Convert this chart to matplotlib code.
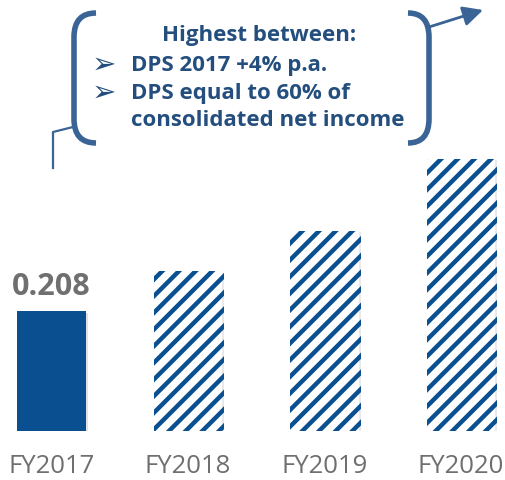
import matplotlib.pyplot as plt
from matplotlib.path import Path
from matplotlib.patches import PathPatch, FancyArrowPatch
import matplotlib.patheffects as pe

plt.rcParams['font.family'] = ['Open Sans', 'DejaVu Sans']
plt.rcParams['hatch.linewidth'] = 3.2

years = ['FY2017', 'FY2018', 'FY2019', 'FY2020']
dps = [0.208, 0.277, 0.347, 0.472]
actual = [True, False, False, False]
first_label = '0.208'

blue = '#0a5091'
brace_col = '#3a6396'
text_col = '#234e7e'
grey = '#6f6f6f'

W, H = 505, 480
fig = plt.figure(figsize=(W / 100, H / 100), dpi=100)

# bar axes, x unit = 136.5 px with first centre at 51.5 px
ax = fig.add_axes([0, 1 - 431 / H, 1, 431 / H])
px_unit = 136.5
ax.set_xlim(-51.5 / px_unit, (W - 51.5) / px_unit)
ax.set_ylim(0, 431 / (120 / 0.208))
ax.axis('off')

shadow = [pe.SimplePatchShadow(offset=(1.2, -1.2), alpha=0.12), pe.Normal()]
for i, (v, a) in enumerate(zip(dps, actual)):
    if a:
        b = ax.bar(i, v, width=0.505, color=blue, linewidth=0)
    else:
        b = ax.bar(i, v, width=0.505, color='white', edgecolor=blue,
                   linewidth=0, hatch='//')
    b[0].set_path_effects(shadow)
    ax.text(i, -0.061, years[i], ha='center', va='center', fontsize=18.5,
            color=grey, clip_on=False)

ax.text(0, dps[0] + 0.041, first_label, ha='center', va='center',
        fontsize=22, fontweight='bold', color=grey)

# overlay in pixel coordinates for the brace callout
ov = fig.add_axes([0, 0, 1, 1])
ov.set_xlim(0, W)
ov.set_ylim(H, 0)
ov.axis('off')

def bracket(x_out, x_in, top, bot):
    verts = [(x_in, top), (x_out, top), (x_out, top + 24),
             (x_out, bot - 24), (x_out, bot), (x_in, bot)]
    codes = [Path.MOVETO, Path.CURVE3, Path.CURVE3,
             Path.LINETO, Path.CURVE3, Path.CURVE3]
    ov.add_patch(PathPatch(Path(verts, codes), fill=False, lw=4,
                           edgecolor=brace_col, capstyle='butt'))

bracket(74, 96, 13, 143)
bracket(429, 408, 13, 143)

# connector on the left
ov.plot([73, 53, 53], [127, 132, 168], color=brace_col, lw=1.6)
# arrow on the right
ov.add_patch(FancyArrowPatch((429, 27), (483, 10), arrowstyle='-|>',
                             mutation_scale=30, color=brace_col, lw=2,
                             shrinkA=0, shrinkB=0))

ov.text(259, 35, 'Highest between:', ha='center', va='center',
        fontsize=16, fontweight='bold', color=text_col)
lines = ['DPS 2017 +4% p.a.', 'DPS equal to 60% of', 'consolidated net income']
ys = [65, 93, 121]
for j, (t, y) in enumerate(zip(lines, ys)):
    if j < 2:
        ov.text(104, y, '\u27a2', ha='center', va='center', fontsize=21,
                color=text_col, family=['DejaVu Sans'])
    ov.text(131, y, t, ha='left', va='center', fontsize=16,
            fontweight='bold', color=text_col)

fig.savefig('out.png', dpi=100)
